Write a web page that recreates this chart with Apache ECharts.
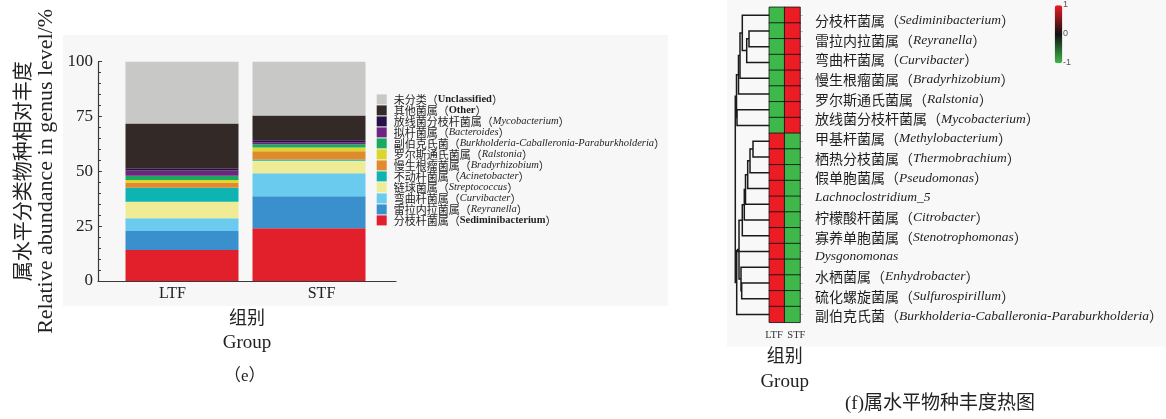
<!DOCTYPE html>
<html>
<head>
<meta charset="utf-8">
<script src="https://cdn.jsdelivr.net/npm/echarts@6/dist/echarts.min.js"></script>
<style>
  html, body { margin: 0; padding: 0; background: #ffffff; }
  #chart { width: 1166px; height: 419px; }
</style>
</head>
<body>
<div id="chart"></div>
<script>
// ---------- (e) relative abundance at genus level (stacked bars, bottom -> top) ----------
const groups = ['LTF', 'STF'];
const abundanceGenera = [
  'Sediminibacterium', 'Reyranella', 'Curvibacter', 'Streptococcus', 'Acinetobacter',
  'Bradyrhizobium', 'Ralstonia', 'Burkholderia-Caballeronia-Paraburkholderia',
  'Bacteroides', 'Mycobacterium', 'Other', 'Unclassified'
];
const abundanceGeneraCn = [
  '分枝杆菌属', '雷拉内拉菌属', '弯曲杆菌属', '链球菌属', '不动杆菌属',
  '慢生根瘤菌属', '罗尔斯通氏菌属', '副伯克氏菌',
  '拟杆菌属', '放线菌分枝杆菌属', '其他菌属', '未分类'
];
const abundanceLTF = [14.1, 8.7, 5.8, 7.5, 6.4, 2.3, 1.2, 2.0, 2.4, 0.8, 20.6, 28.2];
const abundanceSTF = [24.1, 14.6, 10.4, 5.7, 0.6, 3.8, 1.7, 1.5, 0.9, 0.9, 11.3, 24.5];
const abundanceTicks = [0, 25, 50, 75, 100];

// ---------- (f) genus abundance heatmap ----------
const heatGroups = ['LTF', 'STF'];
const heatLTF = [-1, -1, -1, -1, -1, -1, -1, -1, 1, 1, 1, 1, 1, 1, 1, 1, 1, 1, 1, 1];
const heatSTF = [1, 1, 1, 1, 1, 1, 1, 1, -1, -1, -1, -1, -1, -1, -1, -1, -1, -1, -1, -1];
const heatLabelsCn = [
  '分枝杆菌属', '雷拉内拉菌属', '弯曲杆菌属', '慢生根瘤菌属', '罗尔斯通氏菌属',
  '放线菌分枝杆菌属', '甲基杆菌属', '栖热分枝菌属', '假单胞菌属', '',
  '柠檬酸杆菌属', '寡养单胞菌属', '', '水栖菌属', '硫化螺旋菌属', '副伯克氏菌'
];
const heatLabelsLatin = [
  'Sediminibacterium', 'Reyranella', 'Curvibacter', 'Bradyrhizobium', 'Ralstonia',
  'Mycobacterium', 'Methylobacterium', 'Thermobrachium', 'Pseudomonas', 'Lachnoclostridium_5',
  'Citrobacter', 'Stenotrophomonas', 'Dysgonomonas', 'Enhydrobacter', 'Sulfurospirillum',
  'Burkholderia-Caballeronia-Paraburkholderia'
];
// row clustering: [childA, childB, height]; leaves are rows 0..19, merge k creates node 20+k
const dendroMerges = [
  [1, 2, 20.3], [20, 3, 22.6], [0, 21, 27.0], [22, 4, 29.3], [23, 5, 30.8],
  [6, 7, 32.3], [24, 25, 32.8],
  [8, 9, 16.3], [27, 10, 19.3], [28, 11, 21.6], [29, 12, 23.8], [30, 13, 25.0],
  [31, 14, 27.0], [17, 18, 27.6], [16, 33, 28.3], [32, 34, 30.3], [35, 15, 31.6],
  [36, 19, 32.6],
  [26, 37, 34.0]
];
const colorScaleTicks = [1, 0, -1];

// ---------- styling ----------
const barColors = [
  '#e2202c', '#3a8fcd', '#6bcbef', '#f0ec96', '#0db4b1', '#e08a2b',
  '#dbd62b', '#1aa95e', '#6e2580', '#26104a', '#332a28', '#c8c8c6'
];
const uprightLatin = ['Sediminibacterium', 'Other', 'Unclassified'];
const serif = 'Liberation Serif, Times New Roman, serif';
const cjk = 'Noto Sans CJK SC, sans-serif';
const heatRed = '#ec1c25', heatBlack = '#111111', heatGreen = '#3fb84b';

const chart = echarts.init(document.getElementById('chart'), null, { renderer: 'canvas' });

// stacked bar series
const barSeries = abundanceGenera.map((g, i) => ({
  name: g,
  type: 'bar',
  stack: 'total',
  xAxisIndex: 0,
  yAxisIndex: 0,
  barWidth: 113,
  itemStyle: { color: barColors[i] },
  emphasis: { disabled: true },
  data: [abundanceLTF[i], abundanceSTF[i]]
}));

// heatmap cells
const heatRows = heatLTF.map((_, i) => String(i + 1));
const heatData = [];
heatLTF.forEach((v, r) => heatData.push([0, r, v]));
heatSTF.forEach((v, r) => heatData.push([1, r, v]));

// dendrogram node layout (position = mean of children, height from merge table)
const nodePos = heatRows.map((_, i) => i);
const nodeH = heatRows.map(() => 0);
const dendroData = dendroMerges.map(([a, b, h]) => {
  const item = [nodeH[a], nodePos[a], h, nodePos[b], nodeH[b]];
  nodePos.push((nodePos[a] + nodePos[b]) / 2);
  nodeH.push(h);
  return item;
});

const legendText = name => {
  const i = abundanceGenera.indexOf(name);
  const la = uprightLatin.includes(name) ? 'up' : 'la';
  return `{cn|${abundanceGeneraCn[i]}}{cn|（}{${la}|${name}}{cn|）}`;
};

const heatLabel = (val, idx) => {
  const cn = heatLabelsCn[idx];
  const la = heatLabelsLatin[idx];
  return cn ? `{cn|${cn}}{cn|（}{la|${la}}{cn|）}` : `{la|${la}}`;
};

// colour-bar tick labels
const cbTop = 5.3, cbHeight = 58;
const colorScaleText = colorScaleTicks.map(v => ({
  type: 'text',
  left: 1063,
  top: cbTop + (1 - v) / 2 * cbHeight - 5,
  silent: true,
  style: { text: String(v), fill: '#555', font: '9px Liberation Sans, Arial, sans-serif' }
}));

const option = {
  animation: false,
  backgroundColor: '#ffffff',
  graphic: [
    { type: 'rect', z: -10, silent: true, shape: { x: 63, y: 35, width: 605, height: 271 }, style: { fill: '#f7f7f7' } },
    { type: 'rect', z: -10, silent: true, shape: { x: 727, y: 0, width: 439, height: 346.5 }, style: { fill: '#f8f8f8' } },
    {
      type: 'text', silent: true, left: 224, top: 368,
      style: { text: '（e）', font: '17px Liberation Serif, Noto Sans CJK SC, serif', fill: '#222' }
    },
    {
      type: 'text', silent: true, left: 845, top: 395,
      style: { text: '(f)属水平物种丰度热图', font: '19px Liberation Serif, Noto Sans CJK SC, serif', fill: '#222' }
    }
  ].concat(colorScaleText),
  legend: {
    orient: 'vertical',
    left: 371.7,
    top: 88.9,
    itemWidth: 10,
    itemHeight: 10,
    itemGap: 0,
    icon: 'rect',
    selectedMode: false,
    data: abundanceGenera.slice().reverse(),
    formatter: legendText,
    textStyle: {
      padding: [0, 0, 0, 2],
      rich: {
        cn: { fontFamily: cjk, fontSize: 11, lineHeight: 12.2, color: '#1e1e1e' },
        la: { fontFamily: serif, fontSize: 10.5, fontStyle: 'italic', lineHeight: 12.2, color: '#1e1e1e' },
        up: { fontFamily: serif, fontSize: 10.5, fontWeight: 'bold', lineHeight: 12.2, color: '#1e1e1e' }
      }
    }
  },
  visualMap: {
    type: 'continuous',
    seriesIndex: barSeries.length,
    dimension: 2,
    min: -1,
    max: 1,
    show: true,
    calculable: false,
    hoverLink: false,
    orient: 'vertical',
    left: 1054.7,
    top: cbTop,
    itemWidth: 7.6,
    itemHeight: cbHeight,
    padding: 0,
    text: null,
    inRange: { color: [heatGreen, heatBlack, heatRed] }
  },
  grid: [
    { left: 118.5, top: 61.7, width: 254, height: 219.3 },   // bars
    { left: 98, top: 61.7, width: 298, height: 219.3 },      // visible axes of (e)
    { left: 769.3, top: 7.3, width: 35.4, height: 315 },     // heatmap
    { left: 735, top: 7.3, width: 34.3, height: 315 }        // dendrogram
  ],
  xAxis: [
    { gridIndex: 0, type: 'category', data: groups, show: false },
    {
      gridIndex: 1, type: 'category', data: groups,
      axisLine: { lineStyle: { color: '#3a3a3a', width: 1.2 } },
      axisTick: { inside: true, length: 3, lineStyle: { color: '#3a3a3a' } },
      axisLabel: { margin: 5, color: '#222', fontFamily: serif, fontSize: 16 },
      name: '{cn|组别}\n{en|Group}',
      nameLocation: 'middle',
      nameGap: 23,
      nameTextStyle: {
        rich: {
          cn: { fontFamily: cjk, fontSize: 18, lineHeight: 26, color: '#222' },
          en: { fontFamily: serif, fontSize: 19, lineHeight: 26, color: '#222' }
        }
      }
    },
    {
      gridIndex: 2, type: 'category', data: heatGroups,
      axisLine: { show: false },
      axisTick: { show: false },
      axisLabel: {
        interval: 0, hideOverlap: false, margin: 7,
        formatter: (v, i) => (i === 0 ? `{l|${v}}` : `{r|${v}}`),
        rich: {
          l: { color: '#333', fontFamily: serif, fontSize: 10.5, padding: [0, 6, 0, 0] },
          r: { color: '#333', fontFamily: serif, fontSize: 10.5, padding: [0, 0, 0, 8] }
        }
      },
      name: '{cn|组别}\n{en|Group}',
      nameLocation: 'middle',
      nameGap: 19.5,
      nameTextStyle: {
        rich: {
          cn: { fontFamily: cjk, fontSize: 18, lineHeight: 26.7, color: '#222' },
          en: { fontFamily: serif, fontSize: 19, lineHeight: 26.7, color: '#222' }
        }
      }
    },
    { gridIndex: 3, type: 'value', min: 0, max: 34.3, inverse: true, show: false }
  ],
  yAxis: [
    { gridIndex: 0, type: 'value', min: 0, max: 100, show: false },
    {
      gridIndex: 1, type: 'value', min: abundanceTicks[0], max: abundanceTicks[abundanceTicks.length - 1],
      interval: 25,
      axisLine: { show: true, lineStyle: { color: '#3a3a3a', width: 1.2 } },
      axisTick: { show: true, inside: true, length: 4, lineStyle: { color: '#3a3a3a' } },
      minorTick: { show: true, splitNumber: 5, length: 3, lineStyle: { color: '#3a3a3a' } },
      splitLine: { show: false },
      axisLabel: { margin: 5, color: '#222', fontFamily: serif, fontSize: 17 },
      name: '{cn|属水平分类物种相对丰度}\n{en|Relative abundance in genus level/%}',
      nameLocation: 'middle',
      nameRotate: 90,
      nameGap: 40,
      nameTextStyle: {
        rich: {
          cn: { fontFamily: cjk, fontSize: 20, lineHeight: 24, color: '#222' },
          en: { fontFamily: serif, fontSize: 22, lineHeight: 24, color: '#222' }
        }
      }
    },
    {
      gridIndex: 2, type: 'category', data: heatRows, inverse: true, position: 'right',
      axisLine: { show: false },
      axisTick: { show: true, alignWithLabel: true, length: 3, lineStyle: { color: '#c4c4c4' } },
      axisLabel: { show: false }
    },
    {
      gridIndex: 2, type: 'category', data: heatLabelsLatin, inverse: true, position: 'right',
      axisLine: { show: false },
      axisTick: { show: false },
      axisLabel: {
        interval: 0,
        margin: 15,
        padding: [7, 0, 0, 0],
        formatter: heatLabel,
        rich: {
          cn: { fontFamily: cjk, fontSize: 14, color: '#1e1e1e' },
          la: { fontFamily: serif, fontSize: 13.5, fontStyle: 'italic', color: '#1e1e1e' }
        }
      }
    },
    { gridIndex: 3, type: 'value', min: -0.5, max: heatRows.length - 0.5, inverse: true, show: false }
  ],
  series: barSeries.concat([
    {
      type: 'heatmap',
      xAxisIndex: 2,
      yAxisIndex: 2,
      data: heatData,
      itemStyle: { borderColor: 'rgba(15,15,15,0.8)', borderWidth: 1 },
      emphasis: { disabled: true }
    },
    {
      type: 'custom',
      xAxisIndex: 3,
      yAxisIndex: 4,
      silent: true,
      clip: false,
      data: dendroData,
      renderItem: (params, api) => {
        const p1 = api.coord([api.value(0), api.value(1)]);
        const p2 = api.coord([api.value(2), api.value(1)]);
        const p3 = api.coord([api.value(2), api.value(3)]);
        const p4 = api.coord([api.value(4), api.value(3)]);
        return {
          type: 'polyline',
          shape: { points: [p1, p2, p3, p4] },
          style: { stroke: '#1a1a1a', lineWidth: 1.5, fill: null }
        };
      }
    }
  ])
};

chart.setOption(option);
</script>
</body>
</html>
